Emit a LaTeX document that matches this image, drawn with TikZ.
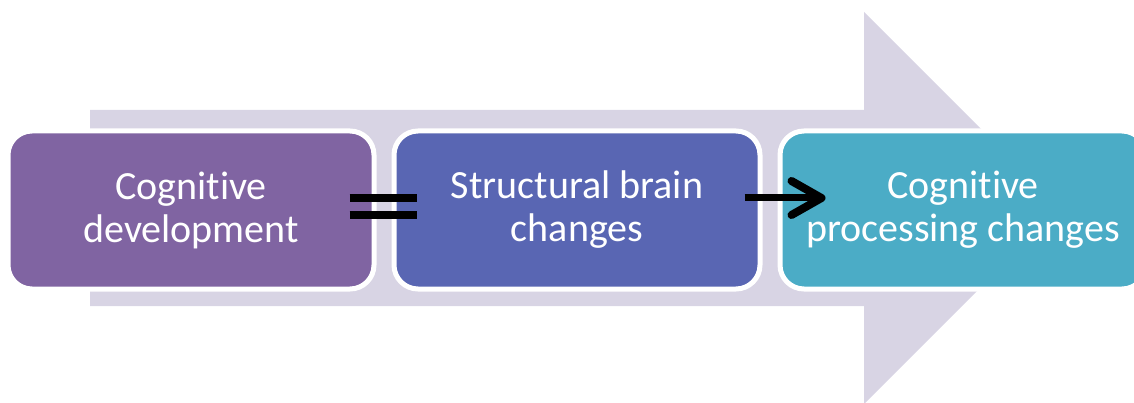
\documentclass[tikz,border=0pt]{standalone}
\usepackage{fontspec}
\setmainfont[Ligatures=NoCommon]{Carlito}
\usetikzlibrary{arrows.meta,
                  positioning}
\definecolor{bgarrow}{HTML}{D8D4E4}
\definecolor{purpleblock}{HTML}{8064A2}
\definecolor{blueblock}{HTML}{5966B3}
\definecolor{aquablock}{HTML}{4BACC6}

\begin{document}
\begin{tikzpicture}[x=1pt, y=-1pt, every node/.style={font=\fontsize{40}{43}\selectfont}]
    \tikzset{
    block/.style= {draw=white, line width=5pt, rectangle, rounded corners=24pt, align=center, minimum width=366pt, minimum height=158pt, text=white},
    eqbar/.style = {draw, line width=8pt},
    line/.style = {draw, line width=7pt, -{Straight Barb[length=30pt, width=34pt, line width=8pt, round]}}
}
\useasboundingbox (0,0) rectangle (1134,403);
% background arrow
\fill [bgarrow] (90,110) -- (864,110) -- (864,12) -- (1060,208) -- (864,404) -- (864,306) -- (90,306) -- cycle;

\node [block, fill=purpleblock] (cogdev) at (191,210) {Cognitive\\development};
\node [block, fill=blueblock, right=15pt of cogdev] (brain) {Structural brain\\changes};
\node [block, fill=aquablock, right=15pt of brain] (processing) {Cognitive\\processing changes};

\path [eqbar] ([xshift=-27pt, yshift=12pt] cogdev.east) -- ([xshift=25pt, yshift=12pt] brain.west);
\path [eqbar] ([xshift=-27pt, yshift=-5pt] cogdev.east) -- ([xshift=25pt, yshift=-5pt] brain.west);
\path [line] ([xshift=-18pt, yshift=12pt] brain.east) -- ([xshift=48pt, yshift=12pt] processing.west);

\end{tikzpicture}
\end{document}
